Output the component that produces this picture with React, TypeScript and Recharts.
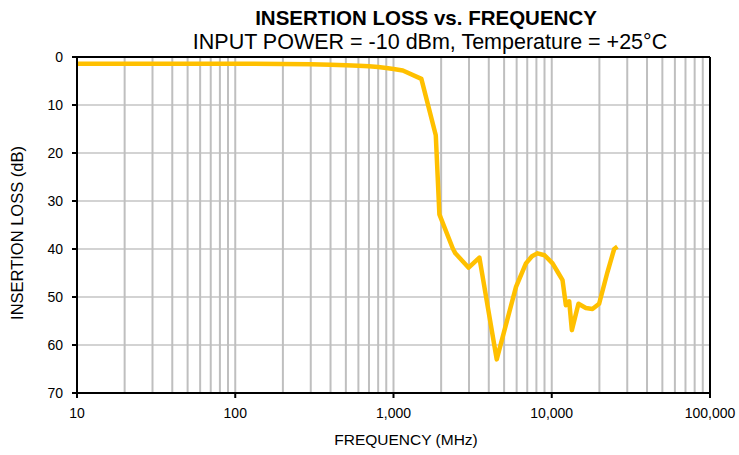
import { LineChart, Line, XAxis, YAxis, CartesianGrid, ReferenceLine } from 'recharts';

// frequency (MHz) and insertion loss (dB)
const freqMHz = [
  10, 20, 50, 100, 200, 300, 400, 500, 600, 700, 800, 900, 1000, 1145, 1500, 1850, 1950,
  2370, 2460, 2985, 3490, 4490, 5945, 6870, 7500, 8140, 9000, 10120, 11000, 11700,
  12280, 12890, 13400, 14750, 16420, 18070, 19930, 22500, 24800, 26000,
];
const lossDb = [
  1.4, 1.4, 1.4, 1.4, 1.45, 1.5, 1.6, 1.7, 1.8, 1.95, 2.1, 2.3, 2.5, 2.8, 4.55, 16.3, 32.8,
  39.9, 40.9, 43.9, 41.8, 63.0, 47.9, 43.0, 41.5, 40.9, 41.3, 43.0, 45.0, 46.5,
  51.7, 50.9, 56.9, 51.4, 52.3, 52.5, 51.4, 44.8, 40.0, 39.5,
];

const xTicks = [10, 100, 1000, 10000, 100000];
const yTicks = [0, 10, 20, 30, 40, 50, 60, 70];
const minorFreqs = [
  20, 30, 40, 50, 60, 70, 80, 90, 100,
  200, 300, 400, 500, 600, 700, 800, 900, 1000,
  2000, 3000, 4000, 5000, 6000, 7000, 8000, 9000, 10000,
  20000, 30000, 40000, 50000, 60000, 70000, 80000, 90000,
];

const data = freqMHz.map((f, i) => ({ f, loss: lossDb[i] }));

const font = '"Liberation Sans", Arial, sans-serif';
const tickStyle = { fill: '#000', fontSize: 14, fontFamily: font };

export default function App() {
  return (
    <div style={{ position: 'absolute', left: 0, top: 0, width: 739, height: 455, background: '#fff', fontFamily: font }}>
      <div style={{ position: 'absolute', left: 426, top: 8, lineHeight: 1, transform: 'translateX(-50%)', whiteSpace: 'nowrap', fontSize: 20.5, fontWeight: 'bold' }}>
        INSERTION LOSS vs. FREQUENCY
      </div>
      <div style={{ position: 'absolute', left: 430, top: 32, lineHeight: 1, transform: 'translateX(-50%)', whiteSpace: 'nowrap', fontSize: 21.5 }}>
        INPUT POWER = -10 dBm, Temperature = +25°C
      </div>
      <div style={{ position: 'absolute', left: 17, top: 233, transform: 'translate(-50%, -50%) rotate(-90deg)', whiteSpace: 'nowrap', fontSize: 16.5 }}>
        INSERTION LOSS (dB)
      </div>
      <div style={{ position: 'absolute', left: 406, top: 440, transform: 'translate(-50%, -50%)', whiteSpace: 'nowrap', fontSize: 15.5 }}>
        FREQUENCY (MHz)
      </div>
      <LineChart width={739} height={455} data={data} margin={{ top: 57, right: 29, bottom: 32, left: 37 }}>
        <CartesianGrid vertical={false} stroke="#c4c4c4" strokeWidth={1.5} />
        {minorFreqs.map((v) => (
          <ReferenceLine key={v} x={v} stroke="#bfbfbf" strokeWidth={2} />
        ))}
        <ReferenceLine y={0} stroke="#000" strokeWidth={2} />
        <ReferenceLine x={100000} stroke="#000" strokeWidth={2} />
        <XAxis
          dataKey="f"
          type="number"
          scale="log"
          domain={[10, 100000]}
          ticks={xTicks}
          allowDataOverflow
          tickFormatter={(v: number) => v.toLocaleString('en-US')}
          tick={tickStyle}
          tickSize={5}
          tickMargin={10}
          height={30}
          axisLine={{ stroke: '#000', strokeWidth: 2 }}
          tickLine={{ stroke: '#000', strokeWidth: 2 }}
        />
        <YAxis
          type="number"
          domain={[0, 70]}
          ticks={yTicks}
          reversed
          tick={tickStyle}
          tickSize={5}
          tickMargin={9}
          width={40}
          axisLine={{ stroke: '#000', strokeWidth: 2 }}
          tickLine={{ stroke: '#000', strokeWidth: 2 }}
        />
        <Line
          type="linear"
          dataKey="loss"
          stroke="#ffc000"
          strokeWidth={4.5}
          dot={false}
          strokeLinejoin="round"
          isAnimationActive={false}
        />
      </LineChart>
    </div>
  );
}
